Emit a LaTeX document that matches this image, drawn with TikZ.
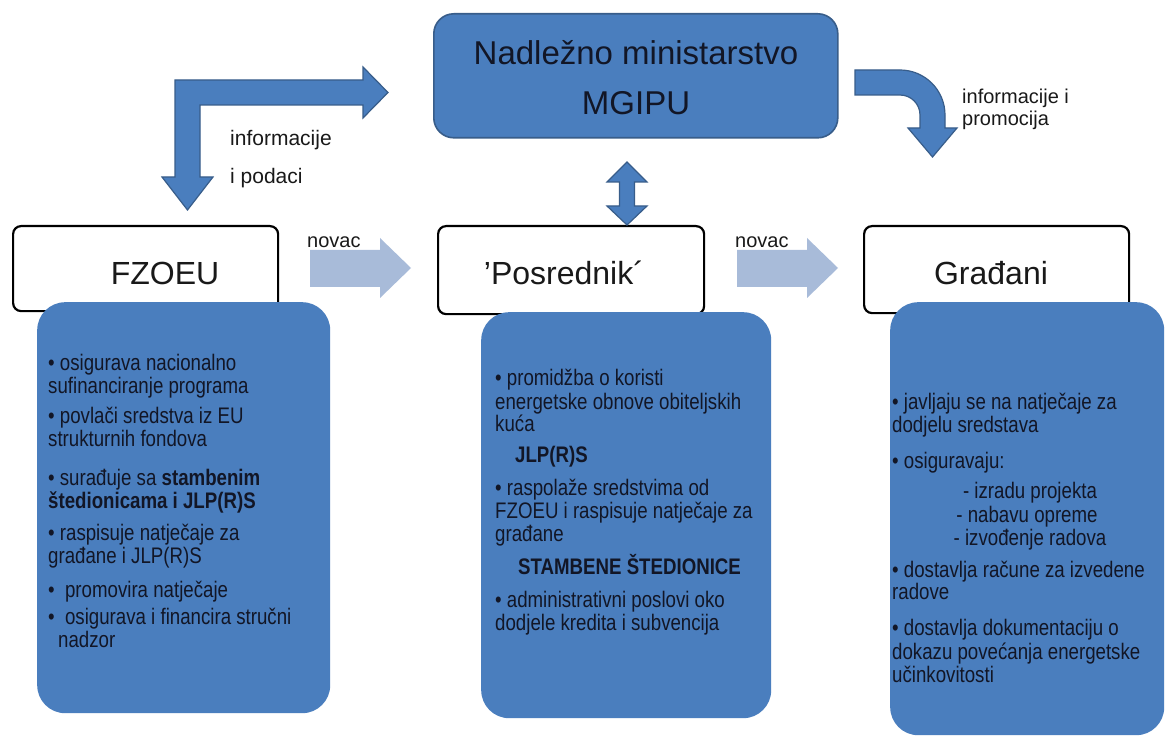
\documentclass[tikz,border=0pt]{standalone}
\usepackage{fontspec}
\setmainfont{Liberation Sans}
\newfontfamily\narrowf[FakeStretch=0.83]{Liberation Sans}
\definecolor{boxblue}{RGB}{74,126,190}
\definecolor{edgeblue}{RGB}{56,93,138}
\definecolor{lightarrow}{RGB}{168,187,217}
\definecolor{txt}{RGB}{18,22,38}
\tikzset{
  whitebox/.style={draw=black, line width=2.2pt, rounded corners=8pt, fill=white, anchor=north west, inner sep=0pt},
  bluebox/.style={fill=boxblue, rounded corners=28pt, anchor=north west, inner sep=0pt},
  topbox/.style={fill=boxblue, draw=edgeblue, line width=1.6pt, rounded corners=20pt, anchor=north west, inner sep=0pt},
  blockarrow/.style={fill=boxblue, draw=edgeblue, line width=1.2pt, line join=miter},
  moneyarrow/.style={fill=lightarrow},
  ltext/.style={anchor=base west, inner sep=0pt, font=\narrowf\fontsize{22.5}{23}\selectfont, text=txt},
  ctext/.style={ltext, anchor=base},
  biglabel/.style={anchor=base, inner sep=0pt, font=\fontsize{32}{36}\selectfont, text=black!90},
  smalllabel/.style={anchor=base west, inner sep=0pt, font=\fontsize{20}{22}\selectfont, text=black!90},
}
\begin{document}
\begin{tikzpicture}[x=1pt,y=-1pt]
\useasboundingbox (0,0) rectangle (1168,738);
\fill[white] (0,0) rectangle (1168,738);

% top box
\node[topbox, minimum width=404pt, minimum height=124pt] (min) at (433,13) {};
\node[anchor=base, inner sep=0pt, font=\fontsize{33}{36}\selectfont, text=txt] (minA) at (636,65) {Nadležno ministarstvo};
\node[anchor=base, inner sep=0pt, font=\fontsize{33}{36}\selectfont, text=txt] (minB) at (636,115) {MGIPU};

% white boxes
\node[whitebox, minimum width=265pt, minimum height=85pt] (fzoeu) at (12,225) {};
\node[whitebox, minimum width=266pt, minimum height=88pt] (posr) at (437,225) {};
\node[whitebox, minimum width=265pt, minimum height=87pt] (grad) at (863,225) {};
\node[biglabel] (fzoeuL) at (165,284) {FZOEU};
\node[biglabel] (posrL) at (564,284) {’Posrednik´};
\node[biglabel] (gradL) at (991,284) {Građani};

% blue boxes
\node[bluebox, minimum width=293pt, minimum height=411pt] (fzoeuD) at (37,302) {};
\node[bluebox, minimum width=290pt, minimum height=406pt] (posrD) at (481,312) {};
\node[bluebox, minimum width=274pt, minimum height=433pt] (gradD) at (890,302) {};

% left bent arrow
\draw[blockarrow] (175,177) -- (175,80) -- (363,80) -- (363,67) -- (388,92.5) -- (363,118)
  -- (363,105) -- (200,105) -- (200,177) -- (213,177) -- (187.5,210) -- (162,177) -- cycle;
\node[smalllabel, font=\fontsize{21}{22}\selectfont] (infoA) at (230,146) {informacije};
\node[smalllabel, font=\fontsize{21}{22}\selectfont] (infoB) at (230,184) {i podaci};

% right curved arrow
\draw[blockarrow] (855,70) -- (900,70) arc[start angle=90, end angle=0, radius=45pt]
  -- (945,128) -- (957,128) -- (932.5,157) -- (908,128) -- (920,128) -- (920,115)
  arc[start angle=0, end angle=90, radius=20pt] -- (855,95) -- cycle;
\node[smalllabel] (promA) at (962,104) {informacije i};
\node[smalllabel] (promB) at (962,126) {promocija};

% double arrow
\draw[blockarrow] (627,162) -- (647,182) -- (634.5,182) -- (634.5,206) -- (647,206) -- (627,225)
  -- (607,206) -- (619.5,206) -- (619.5,182) -- (607,182) -- cycle;

% money arrows
\fill[moneyarrow] (310,250) -- (380,250) -- (380,238) -- (411,268) -- (380,298) -- (380,287) -- (310,287) -- cycle;
\fill[moneyarrow] (737,250) -- (807,250) -- (807,238) -- (838,268) -- (807,298) -- (807,287) -- (737,287) -- cycle;
\node[smalllabel] (nov1) at (307,248) {novac};
\node[smalllabel] (nov2) at (735,248) {novac};

% box 1 text
\node[ltext] (a1) at (48,370) {• osigurava nacionalno};
\node[ltext] (a2) at (48,393) {sufinanciranje programa};
\node[ltext] (a3) at (48,423) {• povlači sredstva iz EU};
\node[ltext] (a4) at (48,446) {strukturnih fondova};
\node[ltext] (a5) at (48,485) {• surađuje sa \textbf{stambenim}};
\node[ltext] (a6) at (48,508) {\textbf{štedionicama i JLP(R)S}};
\node[ltext] (a7) at (48,540) {• raspisuje natječaje za};
\node[ltext] (a8) at (48,563) {građane i JLP(R)S};
\node[ltext] (a9) at (48,597) {•\ \ promovira natječaje};
\node[ltext] (a10) at (48,624) {•\ \ osigurava i financira stručni};
\node[ltext] (a11) at (58,647) {nadzor};

% box 2 text
\node[ltext] (b1) at (495,385) {• promidžba o koristi};
\node[ltext] (b2) at (495,409) {energetske obnove obiteljskih};
\node[ltext] (b3) at (495,431) {kuća};
\node[ltext] (b4) at (515,462) {\textbf{JLP(R)S}};
\node[ltext] (b5) at (495,495) {• raspolaže sredstvima od};
\node[ltext] (b6) at (495,518) {FZOEU i raspisuje natječaje za};
\node[ltext] (b7) at (495,541) {građane};
\node[ltext] (b8) at (518,574) {\textbf{STAMBENE ŠTEDIONICE}};
\node[ltext] (b9) at (495,607) {• administrativni poslovi oko};
\node[ltext] (b10) at (495,630) {dodjele kredita i subvencija};

% box 3 text
\node[ltext] (c1) at (892,409) {• javljaju se na natječaje za};
\node[ltext] (c2) at (892,432) {dodjelu sredstava};
\node[ltext] (c3) at (892,468) {• osiguravaju:};
\node[ctext] (c4) at (1030,498) {- izradu projekta};
\node[ctext] (c5) at (1027,522) {- nabavu opreme};
\node[ctext] (c6) at (1030,545) {- izvođenje radova};
\node[ltext] (c7) at (892,577) {• dostavlja račune za izvedene};
\node[ltext] (c8) at (892,599) {radove};
\node[ltext] (c9) at (892,635) {• dostavlja dokumentaciju o};
\node[ltext] (c10) at (892,659) {dokazu povećanja energetske};
\node[ltext] (c11) at (892,682) {učinkovitosti};
\end{tikzpicture}
\end{document}
